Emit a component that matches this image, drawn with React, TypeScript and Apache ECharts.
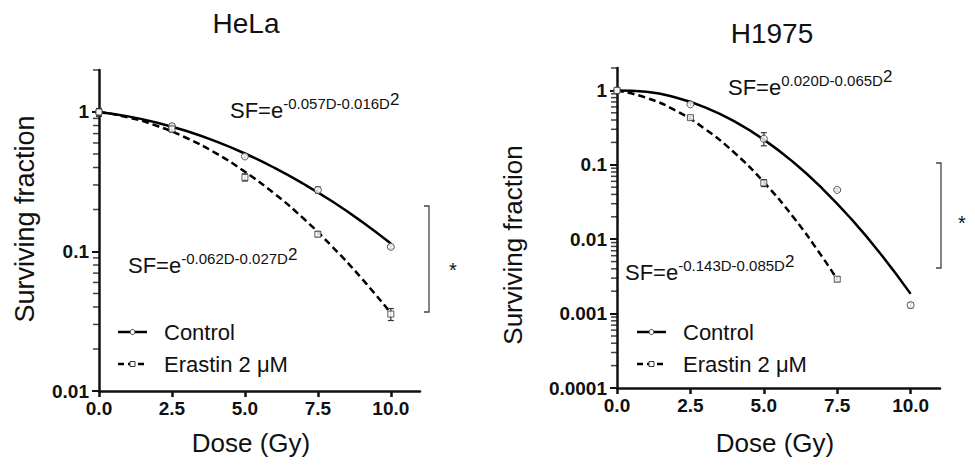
import React, { useEffect, useRef } from "react";
import * as echarts from "echarts";

const FONT = '"Liberation Sans", Arial, Helvetica, sans-serif';
const INK = "#111";

// ---- data ----
const doses = [0, 2.5, 5, 7.5, 10];
const dosesErastinH1975 = [0, 2.5, 5, 7.5];
const xTicks = [0, 2.5, 5, 7.5, 10];

const helaControl = [1, 0.79, 0.48, 0.276, 0.108];
const helaControlLo = [0.93, 0.76, 0.47, 0.262, 0.105];
const helaControlHi = [1.06, 0.82, 0.5, 0.29, 0.111];
const helaErastin = [1, 0.755, 0.34, 0.133, 0.0356];
const helaErastinLo = [0.95, 0.72, 0.32, 0.128, 0.032];
const helaErastinHi = [1.05, 0.79, 0.36, 0.139, 0.039];

const h1975Control = [1, 0.65, 0.224, 0.046, 0.0013];
const h1975ControlLo = [0.96, 0.63, 0.18, 0.044, 0.0012];
const h1975ControlHi = [1.04, 0.67, 0.27, 0.048, 0.0014];
const h1975Erastin = [1, 0.43, 0.057, 0.0029];
const h1975ErastinLo = [0.96, 0.41, 0.051, 0.0027];
const h1975ErastinHi = [1.04, 0.45, 0.063, 0.0031];

// fitted curves
const fitDoses = [0, 1, 2, 3, 4, 5, 6, 7, 8, 9, 10];
const helaControlFit = [1, 0.93, 0.837, 0.73, 0.616, 0.504, 0.399, 0.306, 0.228, 0.164, 0.114];
const helaErastinFit = [1, 0.915, 0.793, 0.651, 0.507, 0.373, 0.261, 0.173, 0.108, 0.0642, 0.0362];
const h1975ControlFit = [1, 0.956, 0.803, 0.592, 0.383, 0.218, 0.109, 0.0476, 0.0183, 0.00619, 0.00184];
const fitDosesErastinH1975 = [0, 1, 2, 3, 4, 5, 6, 7, 7.5];
const h1975ErastinFit = [1, 0.796, 0.535, 0.303, 0.145, 0.0584, 0.0199, 0.00571, 0.00287];

const helaMajor = [0.01, 0.1, 1];
const h1975Major = [0.0001, 0.001, 0.01, 0.1, 1];
const helaMinor = [0.02, 0.03, 0.04, 0.05, 0.06, 0.07, 0.08, 0.09, 0.2, 0.3, 0.4, 0.5, 0.6, 0.7, 0.8, 0.9, 2];
const h1975Minor = [
  0.0002, 0.0003, 0.0004, 0.0005, 0.0006, 0.0007, 0.0008, 0.0009,
  0.002, 0.003, 0.004, 0.005, 0.006, 0.007, 0.008, 0.009,
  0.02, 0.03, 0.04, 0.05, 0.06, 0.07, 0.08, 0.09,
  0.2, 0.3, 0.4, 0.5, 0.6, 0.7, 0.8, 0.9, 2,
];

const pairs = (xs: number[], ys: number[]) => xs.map((x, i) => [x, ys[i]]);
const bars = (xs: number[], lo: number[], hi: number[]) => xs.map((x, i) => [x, lo[i], hi[i]]);

export default function App() {
  const ref = useRef<HTMLDivElement>(null);
  useEffect(() => {
    if (!ref.current) return;
    const chart = echarts.init(ref.current, null, { renderer: "svg" });

    const xAxis = (gridIndex: number) => ({
      type: "value",
      gridIndex,
      min: 0,
      max: 11,
      axisLine: { show: true, onZero: false, lineStyle: { color: INK, width: 2.5 } },
      axisTick: { show: true, customValues: xTicks, length: 6, lineStyle: { color: INK, width: 2.5 } },
      axisLabel: {
        customValues: xTicks,
        formatter: (v: number) => v.toFixed(1),
        fontFamily: FONT,
        fontWeight: "bold",
        fontSize: 19,
        color: INK,
        margin: 8,
      },
      splitLine: { show: false },
    });

    const yAxis = (gridIndex: number, min: number, major: number[]) => ({
      type: "log",
      logBase: 10,
      gridIndex,
      position: "left",
      min,
      max: 2,
      axisLine: { show: true, lineStyle: { color: INK, width: 2.5 } },
      axisTick: { show: true, customValues: major, length: 7, lineStyle: { color: INK, width: 2 } },
      axisLabel: {
        customValues: major,
        formatter: (v: number) => String(v),
        fontFamily: FONT,
        fontWeight: "bold",
        fontSize: 19,
        color: INK,
        margin: 10,
      },
      splitLine: { show: false },
    });

    // minor log ticks drawn through the axis scale (x fixed at dose 0 = the y axis)
    const minorTicks = (values: number[], xi: number, yi: number) => ({
      type: "scatter",
      xAxisIndex: xi,
      yAxisIndex: yi,
      data: values.map((v) => [0, v]),
      symbol: "rect",
      symbolSize: [6, 1.5],
      symbolOffset: [-3, 0],
      itemStyle: { color: INK },
      silent: true,
      clip: false,
      z: 1,
    });

    const fitLine = (name: string, data: number[][], xi: number, yi: number, dashed: boolean) => ({
      type: "line",
      name,
      xAxisIndex: xi,
      yAxisIndex: yi,
      data,
      smooth: true,
      showSymbol: false,
      symbol: "none",
      lineStyle: { color: "#000", width: 2.5, type: dashed ? [7, 4] : "solid" },
      z: 2,
      silent: true,
    });

    const points = (name: string, data: number[][], xi: number, yi: number, shape: string) => ({
      type: "scatter",
      name,
      xAxisIndex: xi,
      yAxisIndex: yi,
      data,
      symbol: shape,
      symbolSize: shape === "circle" ? 7 : 6,
      itemStyle: { color: "#fff", borderColor: "#333", borderWidth: 1 },
      z: 5,
    });

    const errBars = (data: number[][], xi: number, yi: number) => ({
      type: "custom",
      xAxisIndex: xi,
      yAxisIndex: yi,
      data,
      z: 4,
      renderItem: (params: any, api: any) => {
        const x = api.value(0);
        const lo = api.coord([x, api.value(1)]);
        const hi = api.coord([x, api.value(2)]);
        const st = { stroke: "#333", lineWidth: 1.2 };
        return {
          type: "group",
          children: [
            { type: "line", shape: { x1: lo[0], y1: lo[1], x2: hi[0], y2: hi[1] }, style: st },
            { type: "line", shape: { x1: lo[0] - 3, y1: lo[1], x2: lo[0] + 3, y2: lo[1] }, style: st },
            { type: "line", shape: { x1: hi[0] - 3, y1: hi[1], x2: hi[0] + 3, y2: hi[1] }, style: st },
          ],
        };
      },
    });

    const txt = (x: number, y: number, text: string, fontSize: number, extra: any = {}, rotation = 0) => ({
      type: "text",
      x,
      y,
      rotation,
      silent: true,
      style: {
        text,
        fontFamily: FONT,
        fontSize,
        fill: INK,
        align: "center",
        verticalAlign: "middle",
        ...extra,
      },
    });

    const eq = (x: number, y: number, sup: string) => ({
      type: "text",
      x,
      y,
      silent: true,
      style: {
        text: `{a|SF=e}{b|${sup}}{c|2}`,
        fontFamily: FONT,
        fill: INK,
        align: "left",
        verticalAlign: "bottom",
        rich: {
          a: { fontFamily: FONT, fontSize: 22, fill: INK, verticalAlign: "bottom" },
          b: { fontFamily: FONT, fontSize: 15, fill: INK, verticalAlign: "bottom", padding: [0, 0, 10, 0] },
          c: { fontFamily: FONT, fontSize: 17, fill: INK, verticalAlign: "bottom", padding: [0, 0, 13, 0] },
        },
      },
    });

    const legend = (x0: number, y0: number, y1: number) => [
      { type: "line", silent: true, shape: { x1: x0, y1: y0, x2: x0 + 29, y2: y0 }, style: { stroke: "#000", lineWidth: 2.5 } },
      { type: "circle", silent: true, shape: { cx: x0 + 14.5, cy: y0, r: 2.5 }, style: { fill: "#fff", stroke: "#333", lineWidth: 1 } },
      txt(x0 + 46, y0, "Control", 22, { align: "left" }),
      { type: "line", silent: true, shape: { x1: x0, y1: y1, x2: x0 + 29, y2: y1 }, style: { stroke: "#000", lineWidth: 2.5, lineDash: [6, 4] } },
      { type: "rect", silent: true, shape: { x: x0 + 12, y: y1 - 2.5, width: 5, height: 5 }, style: { fill: "#fff", stroke: "#333", lineWidth: 1 } },
      txt(x0 + 46, y1, "Erastin 2 μM", 22, { align: "left" }),
    ];

    const bracket = (x: number, yTop: number, yBot: number, starX: number, starY: number) => [
      {
        type: "polyline",
        silent: true,
        shape: { points: [[x - 5, yTop], [x, yTop], [x, yBot], [x - 5, yBot]] },
        style: { stroke: "#444", lineWidth: 1.3, fill: null },
      },
      txt(starX, starY, "*", 20),
    ];

    chart.setOption({
      animation: false,
      backgroundColor: "#fff",
      grid: [
        { left: 99, top: 70, width: 321, height: 321, containLabel: false },
        { left: 617, top: 68, width: 323, height: 320, containLabel: false },
      ],
      xAxis: [xAxis(0), xAxis(1)],
      yAxis: [yAxis(0, 0.01, helaMajor), yAxis(1, 0.0001, h1975Major)],
      series: [
        minorTicks(helaMinor, 0, 0),
        fitLine("Control", pairs(fitDoses, helaControlFit), 0, 0, false),
        fitLine("Erastin 2 μM", pairs(fitDoses, helaErastinFit), 0, 0, true),
        errBars(bars(doses, helaControlLo, helaControlHi), 0, 0),
        errBars(bars(doses, helaErastinLo, helaErastinHi), 0, 0),
        points("Control", pairs(doses, helaControl), 0, 0, "circle"),
        points("Erastin 2 μM", pairs(doses, helaErastin), 0, 0, "rect"),

        minorTicks(h1975Minor, 1, 1),
        fitLine("Control", pairs(fitDoses, h1975ControlFit), 1, 1, false),
        fitLine("Erastin 2 μM", pairs(fitDosesErastinH1975, h1975ErastinFit), 1, 1, true),
        errBars(bars(doses, h1975ControlLo, h1975ControlHi), 1, 1),
        errBars(bars(dosesErastinH1975, h1975ErastinLo, h1975ErastinHi), 1, 1),
        points("Control", pairs(doses, h1975Control), 1, 1, "circle"),
        points("Erastin 2 μM", pairs(dosesErastinH1975, h1975Erastin), 1, 1, "rect"),
      ],
      graphic: [
        txt(246, 23, "HeLa", 28),
        txt(772, 33, "H1975", 28),
        txt(25, 219, "Surviving fraction", 27, {}, Math.PI / 2),
        txt(513, 245, "Surviving fraction", 26, {}, Math.PI / 2),
        txt(251, 443, "Dose (Gy)", 26),
        txt(775, 443, "Dose (Gy)", 26),
        eq(230, 121, "-0.057D-0.016D"),
        eq(128, 276, "-0.062D-0.027D"),
        eq(728, 98, "0.020D-0.065D"),
        eq(625, 283, "-0.143D-0.085D"),
        ...legend(118, 332, 364),
        ...legend(637, 332, 364),
        ...bracket(429, 206, 312, 453, 270),
        ...bracket(941, 163, 268, 962, 223),
      ],
    });

    return () => chart.dispose();
  }, []);

  return (
    <div
      ref={ref}
      style={{ position: "fixed", left: 0, top: 0, width: 975, height: 465, background: "#fff" }}
    />
  );
}
